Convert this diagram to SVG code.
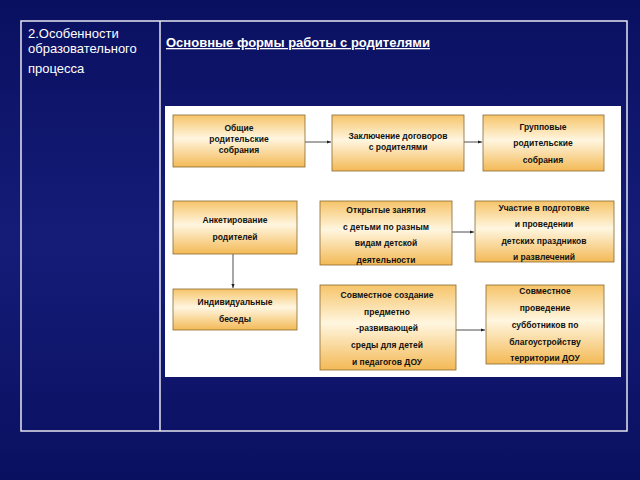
<svg xmlns="http://www.w3.org/2000/svg" width="640" height="480" viewBox="0 0 640 480">
<defs>
<linearGradient id="bg" x1="0" y1="0" x2="0" y2="1"><stop offset="0" stop-color="#0a1060"/><stop offset="0.5" stop-color="#141c78"/><stop offset="1" stop-color="#0a1060"/></linearGradient>
<linearGradient id="bx" x1="0" y1="0" x2="0" y2="1"><stop offset="0" stop-color="#f6c469"/><stop offset="0.45" stop-color="#fff6e0"/><stop offset="1" stop-color="#f3b955"/></linearGradient>
<marker id="ar" markerWidth="6" markerHeight="6" refX="5" refY="3" orient="auto"><path d="M0,1 L5,3 L0,5 z" fill="#222"/></marker>
</defs>
<style>
.b{fill:url(#bx);stroke:#8a6a30;stroke-width:0.8}
.t{font-family:"Liberation Sans",Arial,sans-serif;font-size:8.5px;font-weight:bold;fill:#111;text-anchor:middle}
.c{stroke:#222;stroke-width:0.8;fill:none;marker-end:url(#ar)}
</style>
<rect width="640" height="480" fill="url(#bg)"/>
<rect x="21" y="21" width="606" height="410" fill="none" stroke="#e6e6f0" stroke-width="1.5"/>
<line x1="160" y1="21" x2="160" y2="431" stroke="#e6e6f0" stroke-width="1.5"/>
<text font-family="Liberation Sans,Arial,sans-serif" font-size="13" fill="#fff"><tspan x="28" y="38">2.Особенности</tspan><tspan x="28" y="53">образовательного</tspan><tspan x="28" y="73">процесса</tspan></text>
<text x="166" y="47" font-family="Liberation Sans,Arial,sans-serif" font-size="13" font-weight="bold" fill="#fff" text-decoration="underline">Основные формы работы с родителями</text>
<rect x="165" y="106" width="456" height="271" fill="#fff"/>
<g id="connectors">
<line class="c" x1="305" y1="142" x2="331" y2="142"/>
<line class="c" x1="464" y1="142" x2="482" y2="142"/>
<line class="c" x1="452" y1="232" x2="474" y2="232" stroke="#888"/>
<line class="c" x1="233" y1="254" x2="233" y2="288"/>
<line class="c" x1="456" y1="330" x2="485" y2="330"/>
</g>
<g id="n1"><rect class="b" x="173" y="115" width="132" height="52"/><text class="t"><tspan x="239" y="131">Общие</tspan><tspan x="239" y="142">родительские</tspan><tspan x="239" y="153">собрания</tspan></text></g>
<g id="n2"><rect class="b" x="332" y="115" width="132" height="56"/><text class="t"><tspan x="398" y="139">Заключение договоров</tspan><tspan x="398" y="150">с родителями</tspan></text></g>
<g id="n3"><rect class="b" x="483" y="115" width="121" height="56"/><text class="t"><tspan x="543" y="130">Групповые</tspan><tspan x="543" y="146">родительские</tspan><tspan x="543" y="163">собрания</tspan></text></g>
<g id="n4"><rect class="b" x="173" y="201" width="124" height="53"/><text class="t"><tspan x="235" y="223">Анкетирование</tspan><tspan x="235" y="240">родителей</tspan></text></g>
<g id="n5"><rect class="b" x="320" y="201" width="132" height="64"/><text class="t"><tspan x="386" y="213">Открытые занятия</tspan><tspan x="386" y="230">с детьми по разным</tspan><tspan x="386" y="246">видам детской</tspan><tspan x="386" y="263">деятельности</tspan></text></g>
<g id="n6"><rect class="b" x="475" y="201" width="139" height="61"/><text class="t"><tspan x="544" y="211">Участие в подготовке</tspan><tspan x="544" y="227">и проведении</tspan><tspan x="544" y="244">детских праздников</tspan><tspan x="544" y="260">и развлечений</tspan></text></g>
<g id="n7"><rect class="b" x="173" y="289" width="124" height="41"/><text class="t"><tspan x="235" y="305">Индивидуальные</tspan><tspan x="235" y="322">беседы</tspan></text></g>
<g id="n8"><rect class="b" x="320" y="285" width="136" height="85"/><text class="t"><tspan x="387" y="298">Совместное создание</tspan><tspan x="387" y="315">предметно</tspan><tspan x="387" y="331">-развивающей</tspan><tspan x="387" y="348">среды для детей</tspan><tspan x="387" y="365">и педагогов ДОУ</tspan></text></g>
<g id="n9"><rect class="b" x="486" y="285" width="118" height="79"/><text class="t"><tspan x="545" y="294">Совместное</tspan><tspan x="545" y="311">проведение</tspan><tspan x="545" y="328">субботников по</tspan><tspan x="545" y="345">благоустройству</tspan><tspan x="545" y="361">территории ДОУ</tspan></text></g>
</svg>
